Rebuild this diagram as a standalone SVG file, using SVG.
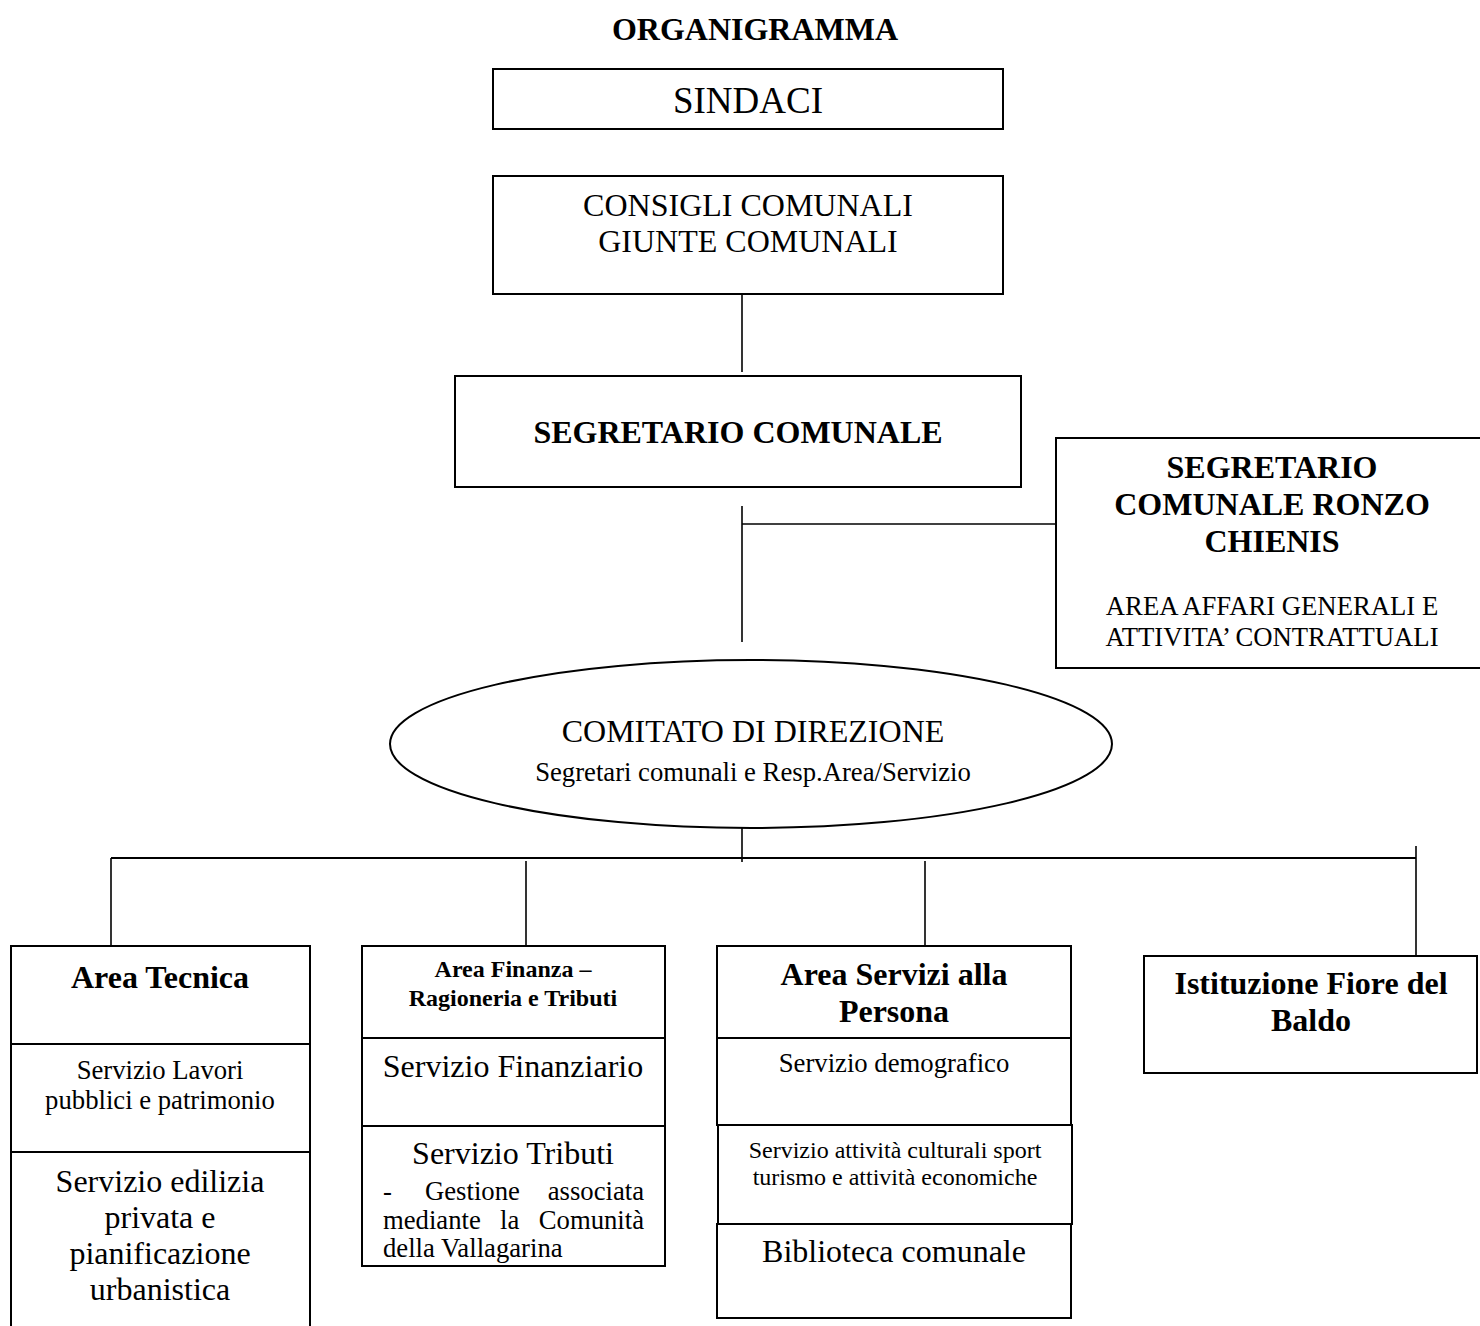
<svg xmlns="http://www.w3.org/2000/svg" width="1480" height="1326" viewBox="0 0 1480 1326">
<style>
text{font-family:"Liberation Serif","Times New Roman",serif;fill:#000}
.b{font-weight:bold}
.c{text-anchor:middle}
.e{text-anchor:end}
.box{fill:#fff;stroke:#000;stroke-width:2}
.ln{fill:none;stroke:#000;stroke-width:1.6}
.f37{font-size:37px}
.f32{font-size:32px}
.f27{font-size:26.7px}
.f24{font-size:24px}
</style>
<rect x="0" y="0" width="1480" height="1326" fill="#fff"/>
<g id="connectors">
<line class="ln" x1="742" y1="294" x2="742" y2="372"/>
<line class="ln" x1="742" y1="506" x2="742" y2="642"/>
<line class="ln" x1="742" y1="524" x2="1056" y2="524"/>
<line class="ln" x1="742" y1="828" x2="742" y2="862"/>
<line class="ln" x1="111" y1="858" x2="1416" y2="858" style="stroke-width:2"/>
<line class="ln" x1="1416" y1="846" x2="1416" y2="956"/>
<line class="ln" x1="111" y1="858" x2="111" y2="946"/>
<line class="ln" x1="526" y1="861" x2="526" y2="946"/>
<line class="ln" x1="925" y1="861" x2="925" y2="946"/>
</g>
<g id="title">
<text class="b c f32" x="755" y="40">ORGANIGRAMMA</text>
</g>
<g id="sindaci">
<rect class="box" x="493" y="69" width="510" height="60"/>
<text class="c f37" x="748" y="113">SINDACI</text>
</g>
<g id="consigli">
<rect class="box" x="493" y="176" width="510" height="118"/>
<text class="c f32" x="748" y="216">CONSIGLI COMUNALI</text>
<text class="c f32" x="748" y="252">GIUNTE COMUNALI</text>
</g>
<g id="segretario">
<rect class="box" x="455" y="376" width="566" height="111"/>
<text class="b c f32" x="738" y="443">SEGRETARIO COMUNALE</text>
</g>
<g id="segretario-ronzo">
<rect class="box" x="1056" y="438" width="430" height="230"/>
<text class="b c f32" x="1272" y="478">SEGRETARIO</text>
<text class="b c f32" x="1272" y="515">COMUNALE RONZO</text>
<text class="b c f32" x="1272" y="552">CHIENIS</text>
<text class="c f27" x="1272" y="615">AREA AFFARI GENERALI E</text>
<text class="c f27" x="1272" y="646">ATTIVITA’ CONTRATTUALI</text>
</g>
<g id="comitato">
<ellipse class="box" cx="751" cy="744" rx="361" ry="84"/>
<text class="c f32" x="753" y="742">COMITATO DI DIREZIONE</text>
<text class="c f27" x="753" y="781">Segretari comunali e Resp.Area/Servizio</text>
</g>
<g id="area-tecnica">
<rect class="box" x="11" y="946" width="299" height="400"/>
<line class="ln" x1="11" y1="1044" x2="310" y2="1044" style="stroke-width:2"/>
<line class="ln" x1="11" y1="1152" x2="310" y2="1152" style="stroke-width:2"/>
<text class="b c f32" x="160" y="988">Area Tecnica</text>
<text class="c f27" x="160" y="1079">Servizio Lavori</text>
<text class="c f27" x="160" y="1109">pubblici e patrimonio</text>
<text class="c f32" x="160" y="1192">Servizio edilizia</text>
<text class="c f32" x="160" y="1228">privata e</text>
<text class="c f32" x="160" y="1264">pianificazione</text>
<text class="c f32" x="160" y="1300">urbanistica</text>
</g>
<g id="area-finanza">
<rect class="box" x="362" y="946" width="303" height="320"/>
<line class="ln" x1="362" y1="1038" x2="665" y2="1038" style="stroke-width:2"/>
<line class="ln" x1="362" y1="1126" x2="665" y2="1126" style="stroke-width:2"/>
<text class="b c f24" x="513" y="977">Area Finanza –</text>
<text class="b c f24" x="513" y="1006">Ragioneria e Tributi</text>
<text class="c f32" x="513" y="1077">Servizio Finanziario</text>
<text class="c f32" x="513" y="1164">Servizio Tributi</text>
<text class="f27" x="383" y="1200">-</text>
<text class="f27" x="425" y="1200">Gestione</text>
<text class="e f27" x="644" y="1200">associata</text>
<text class="f27" x="383" y="1229">mediante</text>
<text class="f27" x="500" y="1229">la</text>
<text class="e f27" x="644" y="1229">Comunità</text>
<text class="f27" x="383" y="1257">della Vallagarina</text>
</g>
<g id="area-servizi">
<rect class="box" x="717" y="946" width="354" height="92"/>
<rect class="box" x="717" y="1038" width="354" height="87"/>
<rect class="box" x="718" y="1125" width="354" height="99"/>
<rect class="box" x="717" y="1224" width="354" height="94"/>
<text class="b c f32" x="894" y="985">Area Servizi alla</text>
<text class="b c f32" x="894" y="1022">Persona</text>
<text class="c f27" x="894" y="1072">Servizio demografico</text>
<text class="c f24" x="895" y="1158">Servizio attività culturali sport</text>
<text class="c f24" x="895" y="1185">turismo e attività economiche</text>
<text class="c f32" x="894" y="1262">Biblioteca comunale</text>
</g>
<g id="istituzione">
<rect class="box" x="1144" y="956" width="333" height="117"/>
<text class="b c f32" x="1311" y="994">Istituzione Fiore del</text>
<text class="b c f32" x="1311" y="1031">Baldo</text>
</g>
</svg>
